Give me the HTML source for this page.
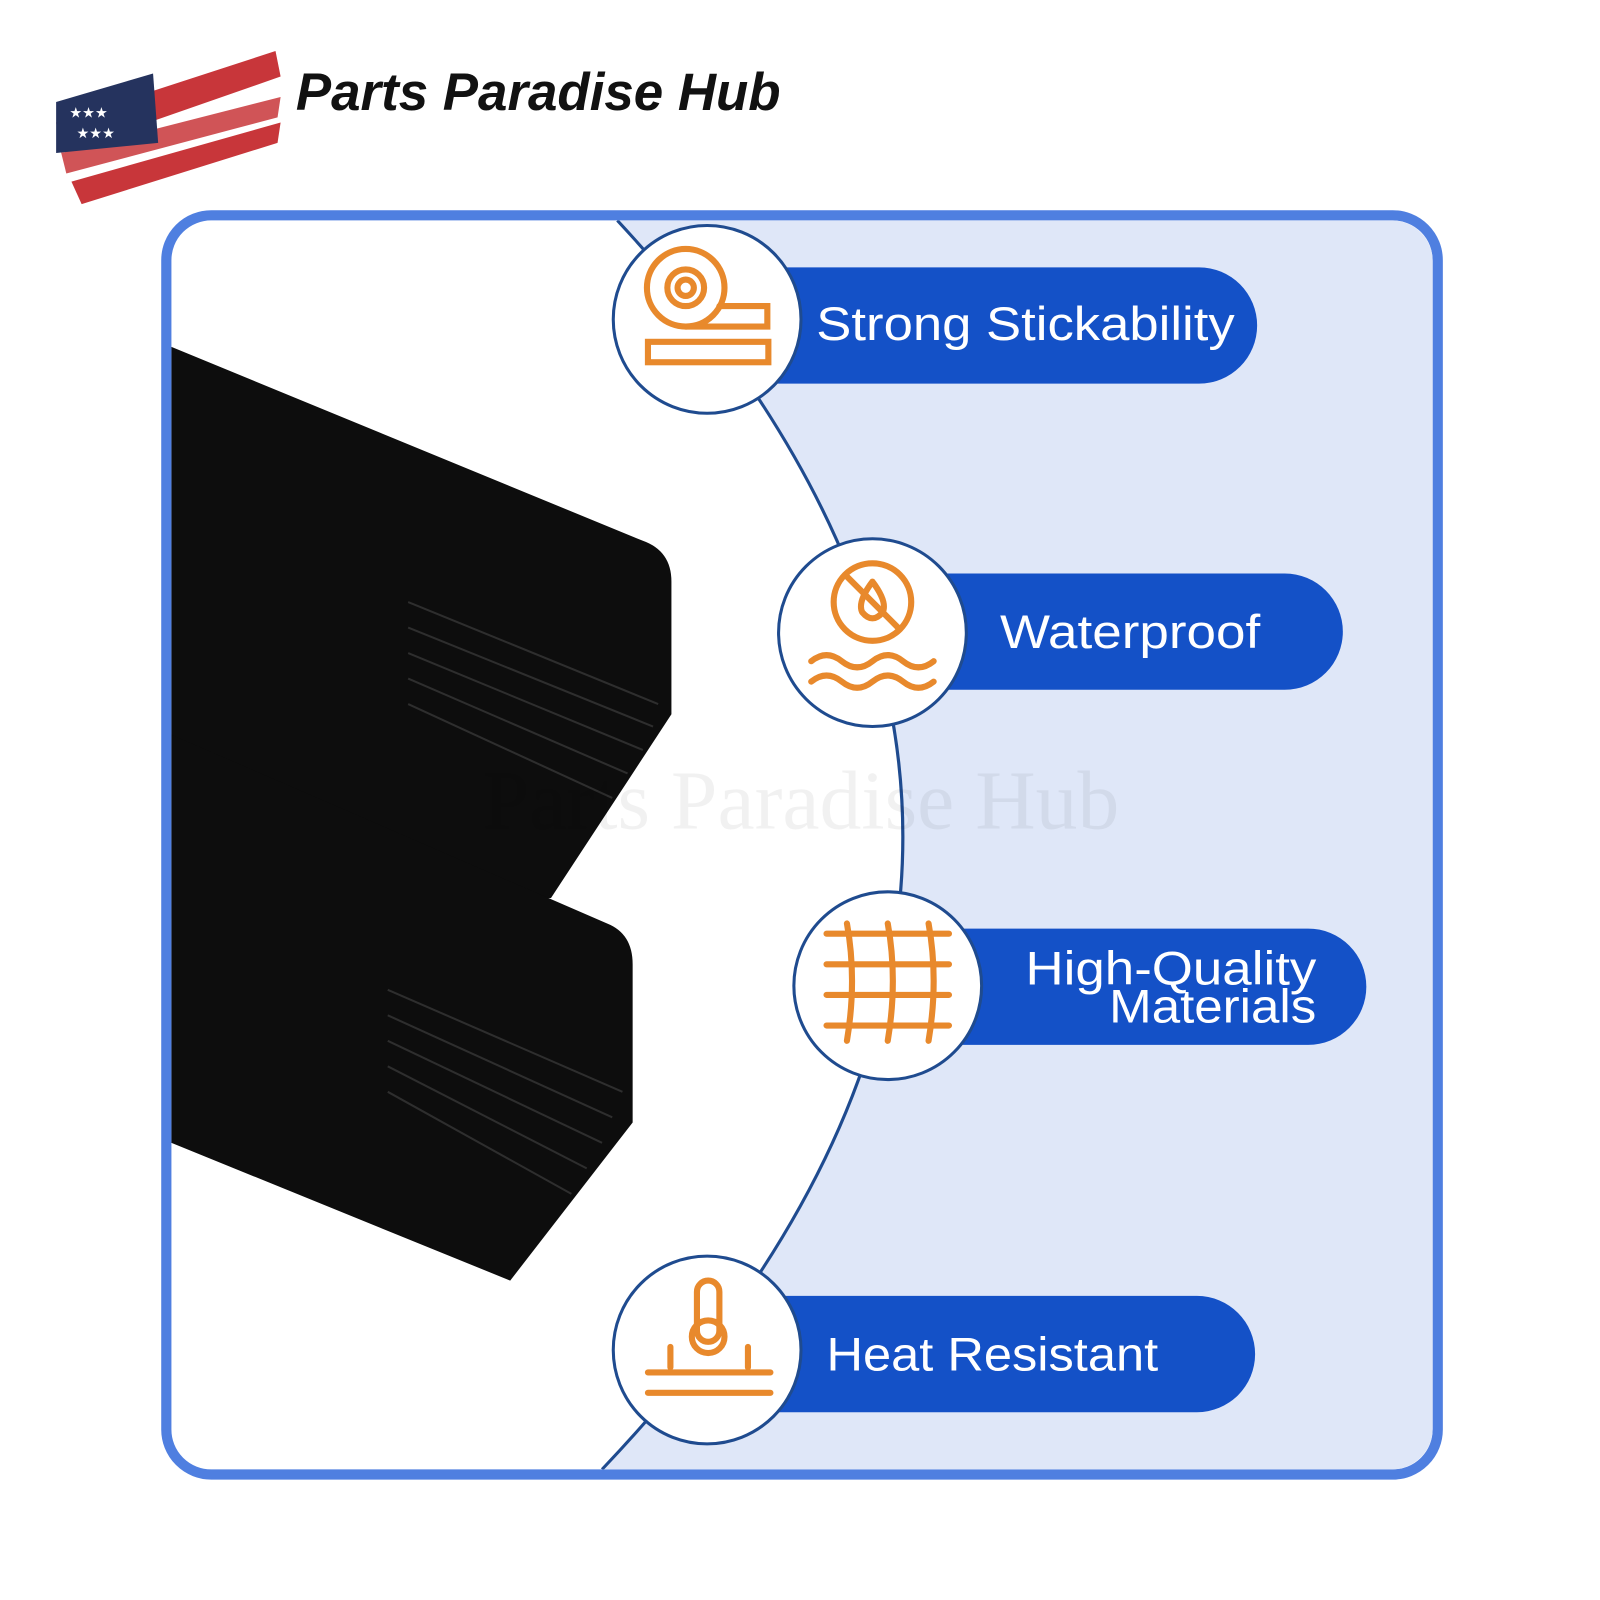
<!DOCTYPE html>
<html><head><meta charset="utf-8"><style>
html,body{margin:0;padding:0;width:1600px;height:1600px;background:#fff;overflow:hidden}
svg{display:block}
</style></head><body>
<svg width="1600" height="1600" viewBox="0 0 1600 1600" xmlns="http://www.w3.org/2000/svg">
<defs>
<clipPath id="fr"><rect x="168" y="216" width="1236" height="1224" rx="40"/></clipPath>
</defs>
<g transform="scale(1.0204)">
<!-- header flag -->
<g>
<path d="M55 120 L270 50 L275 75 L60 150 Z" fill="#c8363a"/>
<path d="M60 150 L275 95 L272 115 L65 170 Z" fill="#c8363a" opacity="0.85"/>
<path d="M70 178 L275 120 L272 140 L80 200 Z" fill="#c8363a"/>
<path d="M55 100 L150 72 L155 140 L55 150 Z" fill="#25335e"/>
<g fill="#fff" font-size="14" font-family="DejaVu Sans">
<text x="68" y="115">★★★</text><text x="75" y="135">★★★</text>
</g>
</g>
<text x="290" y="108" font-family="Liberation Sans, sans-serif" font-style="italic" font-weight="bold" font-size="52" fill="#111" textLength="475" lengthAdjust="spacingAndGlyphs">Parts Paradise Hub</text>

<!-- frame -->
<rect x="163" y="211" width="1246" height="1234" rx="44" fill="#fff" stroke="#4f7fe0" stroke-width="10"/>
<g clip-path="url(#fr)">
<path d="M605 216 Q1172 828 590 1440 L1410 1440 L1410 216 Z" fill="#dfe7f8"/>
<path d="M605 216 Q1172 828 590 1440" fill="none" stroke="#1f4b8f" stroke-width="3"/>
<!-- stacks -->
<path d="M168 340 L630 530 Q658 540 658 570 L658 700 L540 880 L168 900 Z" fill="#0d0d0d"/>
<g stroke="#2e2e2e" stroke-width="2" fill="none">
<path d="M400 590 L645 690"/><path d="M400 615 L640 712"/><path d="M400 640 L630 735"/><path d="M400 665 L615 758"/><path d="M400 690 L600 782"/>
</g>
<path d="M168 720 L595 905 Q620 915 620 945 L620 1100 L500 1255 L168 1120 Z" fill="#0d0d0d"/>
<g stroke="#2e2e2e" stroke-width="2" fill="none">
<path d="M380 970 L610 1070"/><path d="M380 995 L600 1095"/><path d="M380 1020 L590 1120"/><path d="M380 1045 L575 1145"/><path d="M380 1070 L560 1170"/>
</g>
<!-- pills -->
<rect x="700" y="262" width="532" height="114" rx="57" fill="#1451c7"/>
<rect x="860" y="562" width="456" height="114" rx="57" fill="#1451c7"/>
<rect x="875" y="910" width="464" height="114" rx="57" fill="#1451c7"/>
<rect x="700" y="1270" width="530" height="114" rx="57" fill="#1451c7"/>
</g>
<text x="785" y="812" text-anchor="middle" font-family="Liberation Serif, serif" font-size="82" fill="#000" opacity="0.05">Parts Paradise Hub</text>
<g font-family="Liberation Sans, sans-serif" font-size="46" fill="#fff" lengthAdjust="spacingAndGlyphs">
<text x="800" y="333" textLength="410" lengthAdjust="spacingAndGlyphs">Strong Stickability</text>
<text x="980" y="635" textLength="255" lengthAdjust="spacingAndGlyphs">Waterproof</text>
<text x="1005" y="965" textLength="285" lengthAdjust="spacingAndGlyphs">High-Quality</text>
<text x="1087" y="1002" textLength="203" lengthAdjust="spacingAndGlyphs">Materials</text>
<text x="810" y="1343" textLength="325" lengthAdjust="spacingAndGlyphs">Heat Resistant</text>
</g>
<!-- circles -->
<g fill="#fff" stroke="#1f4b8f" stroke-width="3">
<circle cx="693" cy="313" r="92"/><circle cx="855" cy="620" r="92"/>
<circle cx="870" cy="966" r="92"/><circle cx="693" cy="1323" r="92"/>
</g>
<g fill="none" stroke="#e8892c" stroke-width="6" stroke-linecap="round">
<circle cx="672" cy="282" r="38"/><circle cx="672" cy="282" r="18"/><circle cx="672" cy="282" r="8"/>
<path d="M672 320 L752 320 L752 300 L705 300"/><rect x="635" y="335" width="118" height="20"/>
<circle cx="855" cy="590" r="38"/><path d="M855 570 Q840 590 845 600 Q855 612 865 600 Q870 590 855 570"/><path d="M830 565 L880 615"/>
<path d="M795 648 q15 -12 30 0 t30 0 t30 0 t30 0"/><path d="M795 668 q15 -12 30 0 t30 0 t30 0 t30 0"/>
<path d="M810 915 L930 915 M810 945 L930 945 M810 975 L930 975 M810 1005 L930 1005"/>
<path d="M830 905 q10 55 0 115 M870 905 q10 55 0 115 M910 905 q10 55 0 115"/>
<rect x="683" y="1255" width="22" height="60" rx="11"/><circle cx="694" cy="1310" r="16"/>
<path d="M635 1345 L755 1345 M635 1365 L755 1365 M657 1340 L657 1320 M733 1340 L733 1320"/>
</g>
</g>
</svg>
</body></html>
